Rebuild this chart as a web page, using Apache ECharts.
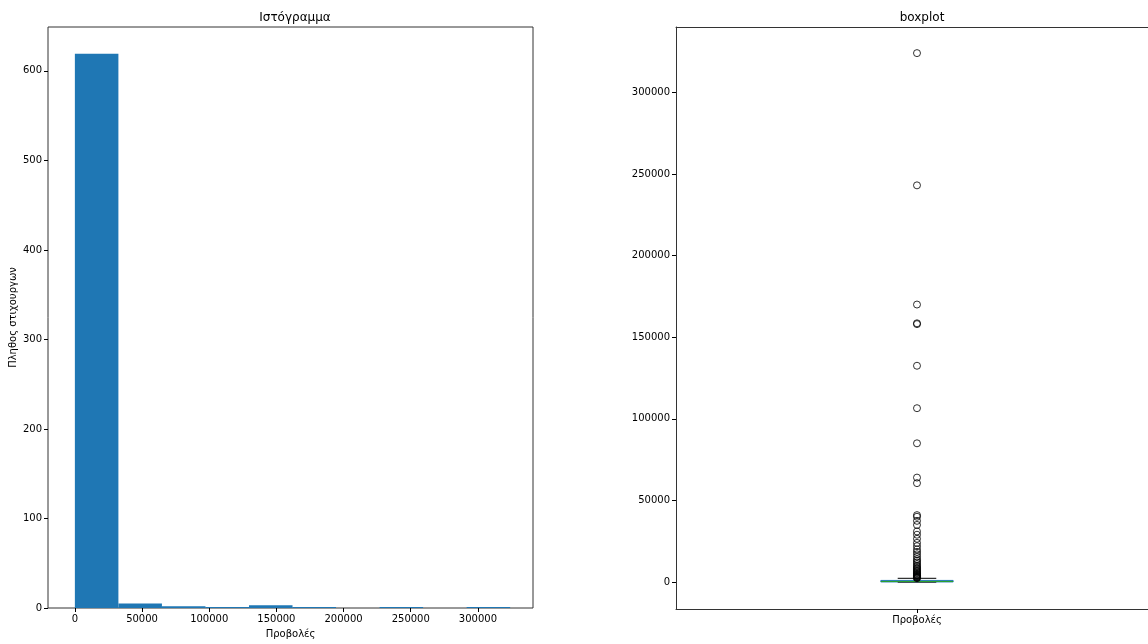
<!DOCTYPE html>
<html>
<head>
<meta charset="utf-8">
<script src="https://cdn.jsdelivr.net/npm/echarts@6/dist/echarts.min.js"></script>
<style>
  html, body { margin: 0; padding: 0; background: #fff; }
  #chart { width: 1148px; height: 644px; }
</style>
</head>
<body>
<div id="chart"></div>
<script>
// Histogram of views: 10 equal bins over [0, 324000]
const binEdges = [0, 32400, 64800, 97200, 129600, 162000, 194400, 226800, 259200, 291600, 324000];
const binCounts = [619, 5, 2, 1, 3, 1, 0, 1, 0, 1];
const histXTicks = [0, 50000, 100000, 150000, 200000, 250000, 300000];
const histYTicks = [0, 100, 200, 300, 400, 500, 600];

// Box plot of views: [lower whisker, Q1, median, Q3, upper whisker]
const boxCategory = ['Προβολές'];
const boxStats = [0, 80, 350, 1000, 2300];
const outliers = [
  324000, 243000, 170000, 158000, 158500, 132500, 106500, 85000, 64000, 60600,
  41000, 40000, 37500, 35000, 31000, 29000, 26500, 24000, 22000, 20000,
  18500, 17000, 15500, 14000, 13000, 12000, 11000, 10000, 9200, 8500,
  7800, 7200, 6600, 6000, 5500, 5000, 4600, 4200, 3800, 3500,
  3200, 2900, 2600, 2400
];
const boxYTicks = [0, 50000, 100000, 150000, 200000, 250000, 300000];

const FONT = 'DejaVu Sans';
const C0 = '#1f77b4';
const C2 = '#2ca02c';
const SPINE = '#333';

const plain = v => String(v);
const tickLabel = { color: '#000', fontSize: 10, fontFamily: FONT, formatter: plain };
const tickLine = { show: true, length: 4, lineStyle: { color: '#000', width: 1 } };
const spine = { show: true, onZero: false, lineStyle: { color: SPINE, width: 1 } };
const noLine = { show: false, onZero: false };

const chart = echarts.init(document.getElementById('chart'), null, { renderer: 'canvas' });

const histData = binCounts.map((c, i) => [binEdges[i], binEdges[i + 1], c]);
// the box sits at position 0 of a unit-wide slot; the panel runs off the right edge
const boxPos = 0;

chart.setOption({
  animation: false,
  backgroundColor: '#fff',
  title: [
    { text: 'Ιστόγραμμα', left: 290, top: 7, textAlign: 'center',
      textStyle: { fontFamily: FONT, fontSize: 12, fontWeight: 'normal', color: '#000' } },
    { text: 'boxplot', left: 917, top: 7, textAlign: 'center',
      textStyle: { fontFamily: FONT, fontSize: 12, fontWeight: 'normal', color: '#000' } }
  ],
  grid: [
    { left: 48, top: 27, width: 485, height: 582, show: true, borderColor: SPINE, borderWidth: 1, backgroundColor: 'transparent' },
    { left: 676, top: 27, width: 472, height: 582, show: false }
  ],
  xAxis: [
    { type: 'value', gridIndex: 0, min: -20000, max: 341000,
      name: 'Προβολές', nameLocation: 'middle', nameGap: 21,
      nameTextStyle: { fontFamily: FONT, fontSize: 10, color: '#000' },
      axisLine: noLine, splitLine: { show: false },
      axisTick: Object.assign({ customValues: histXTicks }, tickLine),
      axisLabel: Object.assign({ customValues: histXTicks, margin: 6 }, tickLabel) },
    { type: 'value', gridIndex: 1, min: -0.5, max: 0.4793, position: 'bottom',
      axisLine: spine, splitLine: { show: false },
      axisTick: Object.assign({ customValues: [boxPos] }, tickLine),
      axisLabel: Object.assign({}, tickLabel, { customValues: [boxPos], margin: 6, formatter: () => boxCategory[0] }) },
    { type: 'value', gridIndex: 1, min: -0.5, max: 0.4793, position: 'top',
      axisLine: spine, splitLine: { show: false },
      axisTick: { show: false }, axisLabel: { show: false } }
  ],
  yAxis: [
    { type: 'value', gridIndex: 0, min: 0, max: 649,
      name: 'Πληθος στιχουργων', nameLocation: 'middle', nameGap: 30, nameRotate: 90,
      nameTextStyle: { fontFamily: FONT, fontSize: 10, color: '#000' },
      axisLine: noLine, splitLine: { show: false },
      axisTick: Object.assign({ customValues: histYTicks }, tickLine),
      axisLabel: Object.assign({ customValues: histYTicks, margin: 6 }, tickLabel) },
    { type: 'value', gridIndex: 1, min: -16500, max: 340000,
      axisLine: spine, splitLine: { show: false },
      axisTick: Object.assign({ customValues: boxYTicks }, tickLine),
      axisLabel: Object.assign({ customValues: boxYTicks, margin: 6 }, tickLabel) }
  ],
  series: [
    {
      type: 'custom', xAxisIndex: 0, yAxisIndex: 0, data: histData,
      renderItem: function (params, api) {
        const p0 = api.coord([api.value(0), api.value(2)]);
        const p1 = api.coord([api.value(1), 0]);
        return {
          type: 'rect',
          shape: { x: p0[0], y: p0[1], width: p1[0] - p0[0], height: p1[1] - p0[1] },
          style: { fill: C0 }
        };
      }
    },
    {
      type: 'custom', xAxisIndex: 1, yAxisIndex: 1, data: [[boxPos].concat(boxStats)],
      z: 3,
      renderItem: function (params, api) {
        const unit = api.size([1, 0])[0];
        const cx = api.coord([api.value(0), 0])[0];
        const boxHalf = unit * 0.075;
        const capHalf = unit * 0.04;
        const y = k => api.coord([0, api.value(k)])[1];
        const yMin = y(1), yQ1 = y(2), yMed = y(3), yQ3 = y(4), yMax = y(5);
        const line = (x1, y1, x2, y2, color) => ({
          type: 'line', shape: { x1, y1, x2, y2 }, style: { stroke: color, lineWidth: 1 }
        });
        return {
          type: 'group',
          children: [
            { type: 'rect', shape: { x: cx - boxHalf, y: yQ3, width: boxHalf * 2, height: yQ1 - yQ3 },
              style: { fill: 'none', stroke: C0, lineWidth: 1 } },
            line(cx, yQ3, cx, yMax, C0),
            line(cx, yQ1, cx, yMin, C0),
            line(cx - capHalf, yMax, cx + capHalf, yMax, '#000'),
            line(cx - capHalf, yMin, cx + capHalf, yMin, '#000'),
            line(cx - boxHalf, yMed, cx + boxHalf, yMed, C2)
          ]
        };
      }
    },
    {
      type: 'scatter', xAxisIndex: 1, yAxisIndex: 1,
      data: outliers.map(v => [boxPos, v]),
      symbol: 'circle', symbolSize: 7, z: 4,
      itemStyle: { color: 'rgba(0,0,0,0)', borderColor: '#000', borderWidth: 1 }
    }
  ]
});
</script>
</body>
</html>
